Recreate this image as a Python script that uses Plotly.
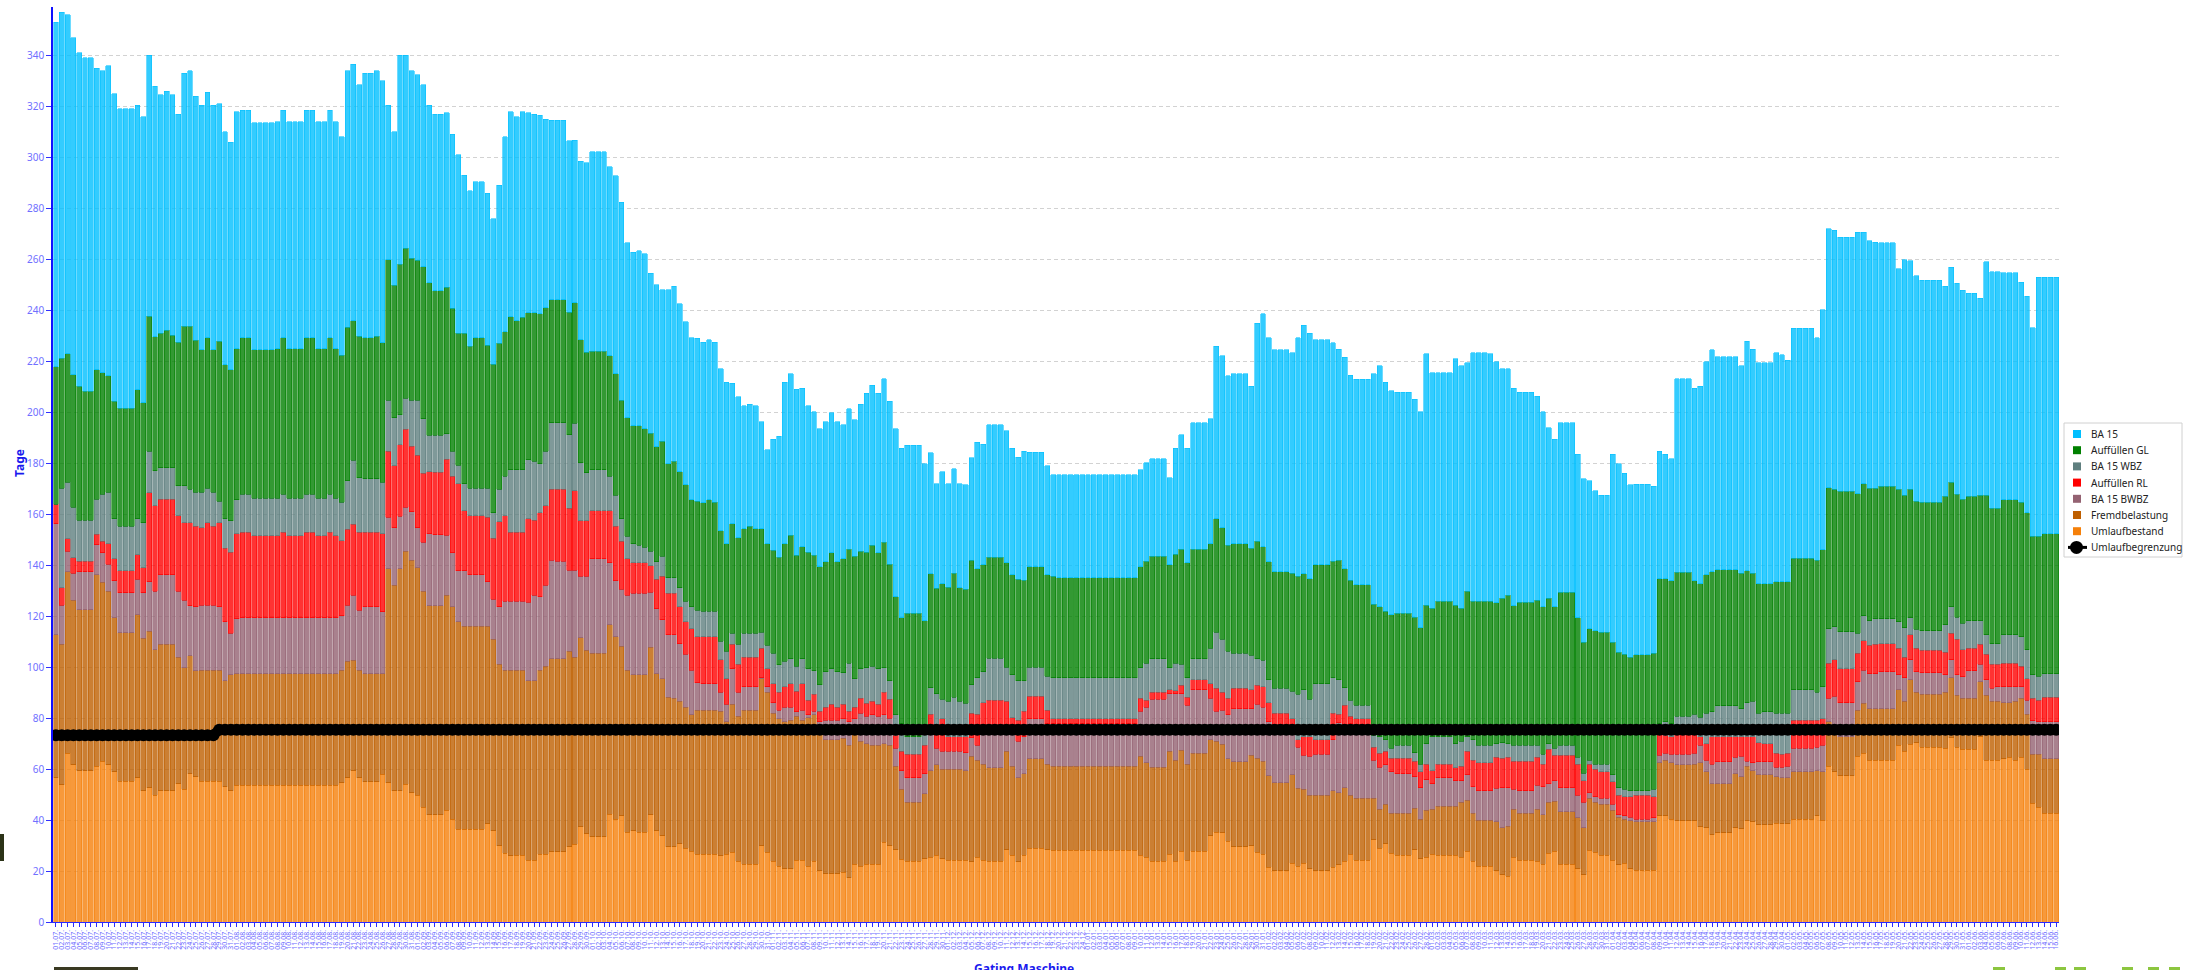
import numpy as np
import pandas as pd
import plotly.graph_objects as go

# ---------------- data (stack boundaries, in "Tage") ----------------
# x categories: consecutive days (Christmas week without data)
_days = pd.date_range("2021-07-01", "2022-06-16", freq="D")
_days = _days[~((_days >= "2021-12-25") & (_days <= "2021-12-31"))]
dates = [d.strftime("%d.%m.") for d in _days]

top_umlaufbestand = [
    56.6, 53.8, 66.3, 61.7, 59.4, 59.4, 59.4, 61.2, 63, 61.7,
    58.9, 55.2, 55.2, 55.2, 56.6, 51.5, 52.7, 49.7, 51.5, 51.5,
    51.5, 54.3, 52, 58.2, 57, 55.2, 55.2, 55.2, 55.2, 53.1,
    51.5, 53.6, 53.6, 53.6, 53.6, 53.6, 53.6, 53.6, 53.6, 53.6,
    53.6, 53.6, 53.6, 53.6, 53.6, 53.6, 53.6, 53.6, 53.6, 54.7,
    56.6, 59.4, 56.6, 55, 55, 55, 58, 54.7, 51.5, 51.5,
    54, 50.8, 49.7, 45, 42, 42, 42, 43.9, 40.4, 36.3,
    36.3, 36.3, 36.3, 36.3, 38.6, 35.8, 30, 27, 25.9, 26.1,
    26.1, 24.2, 24.2, 26.6, 26.6, 27.5, 27.5, 27.5, 29.6, 30.5,
    37.4, 34.6, 33.5, 33.5, 33.5, 42.3, 40.4, 41.6, 35.3, 35.8,
    35.3, 35.3, 42, 35.8, 33.9, 29.6, 29.6, 30.7, 28.9, 27.7,
    26.6, 26.6, 26.6, 26.6, 25.9, 26.6, 27.3, 23.8, 22.6, 22.6,
    22.6, 30, 27.3, 23.8, 21.9, 20.8, 20.8, 24.2, 24.2, 21.9,
    23.8, 20.1, 18.9, 18.9, 18.9, 19.6, 17.3, 22.6, 21.9, 22.6,
    22.6, 22.6, 31.2, 30, 28.4, 24.7, 23.8, 23.8, 23.8, 24.9,
    25.4, 26.1, 24.9, 24.2, 24.2, 24.2, 24.2, 23.6, 25.4, 24.2,
    23.8, 23.8, 23.8, 28.4, 26.1, 23.6, 26.1, 28.9, 28.9, 28.9,
    28.4, 28.2, 28.2, 28.2, 28.2, 28.2, 28.2, 28.2, 28.2, 28.2,
    28.2, 28.2, 28.2, 28.2, 28.2, 28.2, 26.1, 25.4, 23.8, 23.8,
    23.8, 26.6, 23.8, 27.7, 24.2, 27.7, 27.7, 27.7, 33.9, 35.3,
    35.1, 31.6, 29.6, 29.6, 29.6, 30, 27.3, 26.6, 21.5, 20.1,
    20.1, 20.1, 23.1, 21.9, 23.1, 20.8, 20.1, 20.1, 20.1, 21.5,
    22.4, 23.8, 26.6, 24.2, 24.2, 24.2, 32.3, 28.9, 30.7, 27,
    26.1, 26.1, 26.1, 28.4, 24.9, 25.4, 26.6, 26.1, 26.1, 26.1,
    26.1, 25.4, 27.7, 23.8, 21.9, 21.9, 21.9, 20.1, 18.5, 18,
    25.4, 24.2, 24.2, 24.2, 23.8, 22.6, 27, 27.7, 22.6, 22.6,
    22.6, 20.8, 18.5, 28.2, 27.3, 26.1, 26.1, 24.2, 22.4, 23.1,
    20.8, 20.3, 20.3, 20.3, 20.3, 41.6, 41.6, 40.4, 39.7, 39.7,
    39.7, 39.7, 37.4, 37, 34.2, 35.1, 35.1, 35.1, 37, 36.5,
    39.7, 39.3, 38.1, 38.1, 38.1, 38.8, 38.6, 38.6, 40.4, 40.4,
    40.4, 40.4, 41.6, 40, 61.2, 58.9, 57.3, 57.3, 57.3, 65.1,
    66.3, 63.5, 63.5, 63.5, 63.5, 63.5, 69.3, 67, 69.7, 70.4,
    68.6, 68.6, 68.6, 68.6, 68.1, 72.3, 68.6, 67.7, 67.7, 67.7,
    72.7, 63.5, 63.5, 63.5, 64, 64.7, 63.5, 64.7, 60, 46.6,
    45, 42.7, 42.7, 42.7,
]

top_fremdbelastung = [
    112.7, 109, 137.4, 126.3, 122.6, 122.6, 122.6, 136.3, 133.3, 129.8,
    119.4, 113.4, 113.4, 113.4, 120.5, 111.3, 114.1, 106.9, 109, 109,
    109, 103.9, 99.8, 104.4, 98.6, 98.8, 98.8, 98.8, 98.8, 94.7,
    97, 97.5, 97.5, 97.5, 97.5, 97.5, 97.5, 97.5, 97.5, 97.5,
    97.5, 97.5, 97.5, 97.5, 97.5, 97.5, 97.5, 97.5, 97.5, 98.8,
    102.3, 102.7, 98.8, 97.5, 97.5, 97.5, 97.5, 138.6, 132.1, 138.6,
    145.5, 142, 139, 129.8, 124, 124, 124, 128.2, 123.6, 117.8,
    116.1, 116.1, 116.1, 116.1, 116.1, 110.9, 101.1, 98.8, 98.8, 98.8,
    98.8, 94.7, 94.7, 98.8, 100.4, 103.2, 103.2, 103.2, 106.2, 103.9,
    111.5, 106.7, 105.5, 105.5, 105.5, 116.6, 112, 108.1, 98.8, 97,
    97, 97, 107.8, 97.5, 95.4, 88.2, 87.8, 86.6, 84.3, 81.3,
    83.1, 83.1, 83.1, 83.1, 82.7, 78.5, 85.5, 80.8, 83.1, 83.1,
    83.1, 95.4, 90.1, 82, 79.7, 78.5, 79.2, 80.8, 79.2, 80.1,
    81.3, 76.2, 71.6, 71.6, 71.6, 72.1, 69.3, 73.9, 70.9, 70,
    69.3, 69.3, 70, 69.3, 61.2, 52, 46.9, 46.9, 46.9, 50.3,
    59.4, 61.7, 60, 60, 60, 60, 59.4, 65.1, 63.5, 61.9,
    60.5, 60.5, 60.5, 67, 61.2, 56.6, 58.2, 64, 64, 64,
    61.9, 61.2, 61.2, 61.2, 61.2, 61.2, 61.2, 61.2, 61.2, 61.2,
    61.2, 61.2, 61.2, 61.2, 61.2, 61.2, 65.1, 62.4, 60.7, 60.7,
    60.7, 67, 63.5, 67.4, 61.9, 66.3, 66.3, 66.3, 71.6, 70.9,
    69.7, 64, 62.8, 62.8, 62.8, 65.4, 64.2, 63, 57.3, 54.7,
    54.7, 54.7, 57.7, 52.4, 52, 49.7, 49.7, 49.7, 49.7, 51.5,
    50.8, 52.7, 49.7, 48.5, 48.5, 48.5, 48.5, 44.3, 46.2, 42.7,
    42.7, 42.7, 42.7, 44.6, 40.4, 43.9, 44.3, 45.5, 45.5, 45.5,
    45.5, 46.9, 47.8, 42.7, 40, 40, 40, 39.3, 36.9, 37.6,
    44.3, 42.7, 42.7, 42.7, 44.3, 42, 46.9, 47.3, 43.2, 43.2,
    43.2, 40.9, 37, 48.5, 46.9, 46.2, 46.2, 43.9, 41.1, 40.4,
    39.7, 39.3, 39.3, 39.3, 39.3, 62.4, 63.5, 62.4, 61.7, 61.7,
    61.7, 61.9, 62.4, 58.9, 54.3, 54.3, 54.3, 54.3, 58.2, 57,
    61.2, 59.4, 57.7, 57.7, 57.7, 57, 56.6, 56.6, 58.9, 58.9,
    58.9, 58.9, 59.4, 58.9, 78.5, 73.9, 72.7, 72.7, 72.7, 83.1,
    85.9, 83.6, 83.6, 83.6, 83.6, 83.6, 91.2, 86.6, 95.1, 90.1,
    89.4, 89.4, 89.4, 89.4, 90.1, 95.8, 88.9, 87.8, 87.8, 87.8,
    94.2, 88.9, 86.6, 86.6, 86.1, 86.1, 86.6, 87.8, 81.5, 65.8,
    65.8, 64, 64, 64,
]

top_ba15_bwbz = [
    156.3, 124.3, 145.5, 136.9, 137.4, 137.4, 137.4, 148, 144.8, 140.4,
    133.9, 129.1, 129.1, 129.1, 134.4, 129.1, 133.5, 129.8, 136.3, 136.3,
    136.3, 129.8, 126.3, 124, 123.6, 124.3, 124.3, 124.3, 123.6, 117.8,
    113.2, 118.9, 119.4, 119.4, 119.4, 119.4, 119.4, 119.4, 119.4, 119.4,
    119.4, 119.4, 119.4, 119.4, 119.4, 119.4, 119.4, 119.4, 119.4, 120.1,
    124.3, 128.2, 122.4, 123.6, 123.6, 123.6, 121.7, 158.9, 154.7, 159.1,
    162.8, 160.9, 154.7, 148.9, 152.4, 151.9, 151.9, 151.7, 144.8, 137.9,
    137.9, 136.3, 136.3, 136.3, 133.5, 126.6, 123.6, 125.9, 125.9, 125.9,
    125.9, 125.4, 128.2, 127.7, 132.1, 142, 141.6, 141.6, 138.1, 138.1,
    135.6, 135.6, 142.5, 142.5, 142.5, 140.9, 133.9, 130.5, 128.2, 128.9,
    128.9, 128.9, 129.3, 122.9, 118.5, 112.7, 112.7, 109.2, 105.1, 98.8,
    93.9, 93.5, 93.5, 93.5, 90.1, 85.5, 99.3, 90.1, 92.4, 92.4,
    92.4, 95.8, 92.4, 86.1, 83.1, 84.3, 84.3, 82.4, 83.1, 81.3,
    82.7, 78.5, 79.2, 79.2, 79.2, 79.7, 78.5, 79.7, 82, 80.8,
    81.3, 80.8, 81.3, 80, 68.1, 59.4, 56.6, 56.6, 56.6, 58.2,
    73.9, 68.1, 67, 67, 67, 67, 66.5, 72.3, 69.3, 73.9,
    73.9, 73.9, 73.9, 73.9, 73.9, 70.9, 72.7, 79.7, 79.7, 79.7,
    77.8, 77.8, 77.8, 77.8, 77.8, 77.8, 77.8, 77.8, 77.8, 77.8,
    77.8, 77.8, 77.8, 77.8, 77.8, 77.8, 82.7, 84.3, 87.3, 87.3,
    87.3, 89.6, 89.6, 89.6, 85, 91.2, 91.2, 91.2, 87.8, 82.7,
    83.1, 81.3, 83.6, 83.6, 83.6, 83.6, 85.5, 84.3, 78.5, 76.9,
    76.9, 76.9, 76.9, 68.6, 65.4, 65.1, 65.8, 65.8, 65.8, 71.6,
    78.1, 77.4, 77.8, 77.4, 77.4, 77.4, 63.5, 60.7, 61.7, 58.9,
    58.2, 58.2, 58.2, 57, 52.7, 55.9, 54.3, 56.6, 56.6, 56.6,
    55.4, 55.4, 57.7, 53.1, 51.5, 51.5, 51.5, 52.4, 52.7, 52.7,
    52, 51.5, 51.5, 51.5, 53.6, 53.1, 54.3, 55.4, 52.7, 52.7,
    52.7, 49.7, 46.9, 50.8, 49.2, 48.5, 48.5, 46.2, 42, 41.6,
    41.1, 40.4, 40.4, 40.4, 40.9, 65.4, 66.3, 65.8, 65.8, 65.8,
    65.8, 66.3, 69.3, 63.5, 61.9, 62.8, 62.8, 62.8, 64.7, 65.1,
    63, 62.4, 62.8, 62.8, 62.8, 60.7, 60.7, 61.2, 68.1, 68.1,
    68.1, 68.1, 68.6, 69.3, 87.8, 88.5, 86.1, 86.1, 86.1, 94.2,
    98.8, 97.5, 97.5, 98.2, 98.2, 98.2, 97, 95.8, 102.8, 98.2,
    97.7, 97.7, 97.7, 97.7, 97, 102.8, 97, 96.3, 98.6, 98.6,
    101.1, 95.1, 91.7, 92.4, 92.4, 92.4, 92.4, 92.4, 87.1, 79,
    78.5, 78.5, 78.5, 78.5,
]

top_auffuellen_rl = [
    164, 131.2, 150.3, 143, 141.6, 141.6, 141.6, 152.2, 149.4, 148.5,
    142.5, 137.9, 137.9, 137.9, 144.1, 139, 168.4, 163.3, 165.8, 165.8,
    165.8, 159.3, 156.6, 156.6, 155.2, 154.7, 156.6, 155.2, 156.6, 146.6,
    145, 152.4, 152.9, 152.9, 151.5, 151.5, 151.5, 151.5, 151.5, 152.9,
    151.5, 151.5, 151.5, 152.9, 152.9, 151.5, 151.5, 152.9, 151.5, 149.6,
    154, 156.1, 152.9, 152.9, 152.9, 152.9, 152.4, 184.7, 179, 187.3,
    193.3, 186.6, 183.1, 176, 176.7, 176.4, 176.4, 181.5, 174.8, 172,
    161.4, 159.3, 159.3, 159.3, 158.9, 150.6, 157, 159.3, 152.9, 152.9,
    152.9, 158.2, 157.7, 160.5, 163.3, 169.7, 169.7, 169.7, 162.4, 169.3,
    157.5, 157.5, 161.4, 161.4, 161.4, 161.4, 155.2, 149.4, 142.5, 140.9,
    140.9, 140.9, 139.7, 134.4, 135.6, 128.9, 128.9, 123.6, 117.8, 115,
    112, 112, 112, 112, 102.8, 95.4, 109, 101.1, 103.9, 103.9,
    103.9, 107.4, 99.3, 93.5, 90.1, 92.4, 93.5, 90.5, 93.5, 87.1,
    89.4, 82.7, 84.3, 85.5, 84.3, 85.5, 82.7, 84.3, 87.8, 85.9,
    86.6, 85.5, 90.1, 87.3, 73.2, 67, 65.8, 65.8, 65.8, 69.3,
    81.5, 77.4, 79.7, 72.7, 72.7, 72.7, 72.7, 82, 81.5, 86.1,
    87.1, 87.1, 87.1, 86.6, 80.1, 79.2, 82.7, 88.5, 88.5, 88.5,
    83.1, 79.7, 79.7, 79.7, 79.7, 79.7, 79.7, 79.7, 79.7, 79.7,
    79.7, 79.7, 79.7, 79.7, 79.7, 79.7, 87.8, 87.1, 90.1, 90.1,
    90.1, 91.2, 90.7, 92.8, 88.2, 95.1, 95.1, 95.1, 93.5, 91.7,
    90.1, 87.8, 91.7, 91.7, 91.7, 91.2, 92.8, 92.4, 86.1, 82,
    82, 82, 79.7, 71.6, 72.7, 72.7, 71.6, 71.6, 71.6, 82,
    81.5, 85, 80.8, 79.7, 79.7, 79.7, 68.6, 66.3, 67, 64.2,
    64.2, 64.2, 64.2, 63, 58.9, 61.9, 59.4, 61.9, 61.9, 61.9,
    60.5, 61.2, 67, 63.5, 62.4, 62.4, 62.4, 64.7, 64.2, 64.7,
    63, 63, 63, 63, 64.7, 61.9, 67.7, 65.4, 65.4, 65.4,
    65.4, 61.9, 55.4, 61.9, 60, 58.9, 58.9, 55, 49.7, 49.2,
    49.2, 49.7, 49.7, 49.7, 49.2, 75.1, 73.2, 72.7, 73.9, 73.9,
    73.9, 75.1, 72.7, 70, 72.7, 72.7, 72.7, 72.7, 72.7, 72.7,
    72.7, 72.7, 70.4, 70, 70, 66.3, 65.8, 66.3, 79.2, 79.2,
    79.2, 79.2, 79.2, 79.7, 101.6, 102.8, 99.3, 99.3, 99.3, 105.5,
    110.4, 108.5, 109, 109.2, 109.2, 109.2, 107.4, 103.9, 112.7, 107.4,
    106.7, 106.7, 106.7, 106.7, 105.8, 113.2, 110.9, 106.9, 107.4, 107.4,
    109, 105.1, 101.1, 101.1, 101.6, 101.6, 101.6, 100.4, 95.4, 87.8,
    87.1, 88.2, 88.2, 88.2,
]

top_ba15_wbz = [
    164, 170.2, 172.5, 162.8, 157.7, 157.7, 157.7, 165.8, 167.9, 168.6,
    158.2, 155.2, 155.2, 155.2, 158.2, 156.6, 184.7, 177.1, 178.3, 178.3,
    178.3, 171.1, 171.1, 169.7, 168.6, 168.6, 170.2, 168.6, 165.1, 158.2,
    157.5, 165.6, 167.9, 167.9, 166.3, 166.3, 166.3, 166.3, 166.3, 167.9,
    166.3, 166.3, 166.3, 167.9, 167.9, 166.3, 166.3, 167.9, 166.3, 164.7,
    173.2, 181.1, 174.4, 173.9, 173.9, 173.9, 172.5, 204.8, 197.9, 199.1,
    205.5, 204.8, 204.8, 197.4, 191, 191, 191, 191.5, 184.7, 179.2,
    172, 170.2, 170.2, 170.2, 170.2, 160.5, 169.7, 174.8, 177.4, 177.4,
    177.4, 181.3, 180.8, 179.7, 184.7, 195.8, 195.8, 195.8, 191.2, 195.6,
    180.1, 176.2, 177.4, 177.4, 177.4, 174.8, 167.4, 158.2, 151.3, 148.5,
    147.8, 147.1, 145.5, 141.3, 143.6, 135.1, 135.1, 131.2, 125.9, 123.6,
    122.4, 122, 122, 122, 110.2, 106.2, 113.2, 109, 113.2, 113.2,
    113.2, 113.6, 108.5, 105.5, 100.9, 102.3, 103.2, 100.4, 103.2, 99.3,
    98.6, 93.1, 98.1, 99.3, 98.1, 97.7, 101.6, 95.4, 99.3, 99.8,
    100.4, 99.3, 99.8, 94.7, 81.3, 77.8, 72.7, 72.7, 72.7, 75,
    91.9, 89.6, 87.3, 86.6, 88.2, 86.6, 85.9, 93.1, 95.8, 98.1,
    103.5, 103.5, 103.5, 100, 97, 94.7, 94.7, 100, 100, 100,
    96.5, 95.8, 95.8, 95.8, 95.8, 95.8, 95.8, 95.8, 95.8, 95.8,
    95.8, 95.8, 95.8, 95.8, 95.8, 95.8, 99.8, 101.6, 103.2, 103.2,
    103.2, 99.8, 101.6, 101.1, 95.8, 103.2, 103.2, 103.2, 107.4, 113.6,
    110.9, 106.2, 105.5, 105.5, 105.5, 104.6, 103.2, 102.7, 95.1, 91.7,
    91.7, 91.7, 90.5, 89.4, 91.2, 87.3, 93.5, 93.5, 93.5, 95.8,
    95.1, 91.9, 87.1, 85, 85, 85, 73.2, 72.7, 71.6, 68.1,
    69.3, 69.3, 69.3, 66.5, 61.9, 70, 72.7, 72.7, 72.7, 72.7,
    70, 70.9, 72.7, 71.6, 69.3, 69.3, 69.3, 70, 70.4, 70,
    69.3, 69.3, 69.3, 69.3, 69.3, 65.8, 70, 68.1, 69.3, 69.3,
    69.3, 64.7, 58.4, 63.5, 61.9, 61.9, 61.9, 57.7, 52.7, 52,
    51.5, 51.5, 51.5, 51.5, 52, 77.8, 78.5, 77.8, 80.8, 80.8,
    80.8, 81.5, 80.4, 82, 82.5, 84.8, 84.8, 84.8, 84.8, 83.6,
    86.1, 86.6, 82, 82.5, 82.5, 82, 82, 82, 91.2, 91.2,
    91.2, 91.2, 90.1, 92.4, 115, 115.9, 113.9, 113.9, 113.9, 113.2,
    120.1, 118.2, 118.9, 118.9, 118.9, 118.9, 117.8, 115.5, 119.4, 114.8,
    114.3, 114.3, 114.3, 114.3, 116.6, 123.6, 119.6, 117.3, 118.2, 118.2,
    118.2, 112.7, 109.2, 109.2, 112.7, 112.7, 112.7, 112, 106.9, 97,
    96.5, 97.5, 97.5, 97.5,
]

top_auffuellen_gl = [
    217.8, 221.2, 222.9, 214.8, 210.2, 208.3, 208.3, 216.6, 215.5, 214.3,
    204.4, 201.6, 201.6, 201.6, 208.8, 203.7, 237.6, 229.6, 231, 232.1,
    230.3, 227.5, 233.7, 233.7, 228.2, 224.5, 229.3, 224.5, 227.9, 218.7,
    216.6, 224.9, 229.3, 229.3, 224.5, 224.5, 224.5, 224.5, 225, 229.3,
    225, 225, 225, 229.3, 229.3, 225, 225, 229.3, 225, 222.4,
    233.3, 236, 229.8, 229.3, 229.3, 229.8, 227.3, 259.8, 249.9, 258,
    264.4, 260.5, 259.6, 257, 250.8, 247.6, 247.6, 249, 240.9, 231,
    231, 225.9, 229.3, 229.3, 226.3, 218.9, 227, 231.6, 237.4, 236,
    237.2, 239, 239, 238.6, 241.1, 244.1, 244.1, 244.1, 239.3, 242.9,
    228.4, 223.6, 224, 224, 224, 222.2, 215.2, 204.8, 197.9, 194.7,
    194.7, 193.5, 191.7, 186.4, 188.7, 179.7, 180.8, 176.7, 171.6, 165.6,
    165.1, 164.4, 165.6, 164.7, 153.6, 148.5, 156.3, 150.8, 154.3, 155.2,
    154.3, 154.3, 148.5, 145.9, 143.2, 148.5, 151.7, 143.9, 147.3, 145,
    143.9, 139.3, 141.3, 144.8, 141.3, 142.5, 146.2, 143.6, 145.5, 145,
    147.8, 144.8, 148.9, 140.4, 127.7, 119.4, 121.2, 121.2, 121.2, 118.2,
    136.7, 130.9, 132.8, 131.4, 136.9, 131.2, 130.5, 142, 138.6, 140.2,
    143.2, 143.2, 143.2, 140.9, 136.3, 134.4, 134, 139.3, 139.3, 139.3,
    136.3, 135.6, 135.1, 135.1, 135.1, 135.1, 135.1, 135.1, 135.1, 135.1,
    135.1, 135.1, 135.1, 135.1, 135.1, 135.1, 139.3, 141.6, 143.6, 143.6,
    143.6, 140.2, 144.3, 146.2, 140.9, 146.2, 146.2, 146.2, 148.5, 158.2,
    154.7, 147.8, 148.5, 148.5, 148.5, 146.6, 149.4, 147.3, 141.3, 137.4,
    137.4, 137.4, 136.9, 135.6, 136.7, 134.6, 140.2, 140.2, 140.2, 141.6,
    142, 138.6, 134, 132.3, 132.3, 132.3, 124.7, 123.6, 121.9, 120.5,
    121.2, 121.2, 121.2, 119.6, 115.5, 124.2, 123.1, 125.9, 125.9, 125.9,
    124.2, 123.1, 129.8, 125.9, 125.9, 125.9, 125.9, 125.2, 127, 128.2,
    124, 125.4, 125.4, 125.4, 126.3, 123.6, 127, 123.6, 129.3, 129.3,
    129.3, 119.4, 109.7, 115, 114.3, 113.6, 113.6, 109.7, 105.8, 105.1,
    103.9, 104.8, 104.8, 104.8, 105.5, 134.6, 134.6, 133.9, 137.2, 137.2,
    137.2, 133.9, 132.8, 136.3, 137.4, 138.3, 138.3, 138.3, 138.3, 136.9,
    137.9, 136.9, 132.8, 132.8, 132.8, 133.5, 133.5, 133.5, 142.7, 142.7,
    142.7, 142.7, 142, 146, 170.4, 169.7, 169, 169, 169, 168.1,
    172, 170.2, 170.2, 170.9, 170.9, 170.9, 169.7, 167.4, 169.7, 165.1,
    164.7, 164.7, 164.7, 164.7, 167, 172.5, 167.9, 165.8, 167, 167,
    167.4, 167.4, 162.4, 162.4, 165.6, 165.6, 165.6, 164.7, 160.5, 151.3,
    151.3, 152.4, 152.4, 152.4,
]

top_ba15 = [
    353, 357, 356, 347, 341, 339, 339, 335, 334, 336,
    325, 319, 319, 319, 320.5, 316, 340, 328, 324.5, 326,
    324.5, 317, 333, 334, 324, 320.5, 325.5, 320.5, 321, 310,
    306, 318, 318.5, 318.5, 313.5, 313.5, 313.5, 313.5, 314, 318.5,
    314, 314, 314, 318.5, 318.5, 314, 314, 318.5, 314, 308,
    334, 336.5, 328.5, 333, 333, 334, 330, 320.5, 310, 340,
    340, 334, 332.5, 328.5, 320.5, 317, 317, 317.5, 309, 301,
    293, 287, 290.5, 290.5, 286, 276, 289, 308, 318, 316,
    318, 317.5, 317, 316.5, 315, 314.5, 314.5, 314.5, 306.5, 306.7,
    298.4, 297.9, 302.3, 302.3, 302.3, 296.3, 292.8, 282.4, 266.5, 262.8,
    263.3, 262.1, 254.5, 250.1, 248, 248, 249.4, 242.5, 235.6, 229.3,
    229.1, 227.5, 228.4, 227.5, 217.1, 211.8, 211.3, 206, 202.5, 203.2,
    202.5, 196.3, 185.2, 189.4, 190.5, 211.8, 215.2, 209, 209.5, 202.5,
    200.2, 193.5, 196.3, 199.8, 196.3, 195.1, 201.4, 197, 203.2, 207.4,
    210.6, 207.4, 213.2, 204.4, 193.5, 185.9, 187.1, 187.1, 187.1, 179.7,
    184.1, 172, 176.7, 172, 177.8, 172, 171.6, 182.2, 188.2, 187.5,
    195.1, 195.1, 195.1, 192.8, 185.9, 182.4, 184.7, 184.3, 184.3, 184.3,
    179, 175.5, 175.5, 175.5, 175.5, 175.5, 175.5, 175.5, 175.5, 175.5,
    175.5, 175.5, 175.5, 175.5, 175.5, 175.5, 177.4, 180.1, 181.7, 181.7,
    181.7, 174.4, 185.9, 191.2, 185.9, 195.8, 195.8, 195.8, 197.4, 225.9,
    222.2, 214.3, 215.2, 215.2, 215.2, 210.2, 234.9, 238.6, 229.3, 224.5,
    224.5, 224.5, 223.3, 229.3, 234.2, 231, 228.4, 228.4, 228.4, 227.3,
    224.7, 221.5, 214.6, 212.9, 212.9, 212.9, 215.2, 218.2, 211.8, 208.5,
    207.8, 207.8, 207.8, 205.1, 200.2, 222.9, 215.5, 215.5, 215.5, 215.5,
    221, 218.2, 219.4, 223.3, 223.3, 223.3, 222.9, 219.9, 217.1, 217.1,
    209.5, 207.8, 207.8, 207.8, 206.2, 200.2, 194, 189.4, 195.8, 195.8,
    195.8, 183.6, 173.9, 173.2, 169.3, 167.4, 167.4, 183.6, 179.7, 176,
    171.6, 171.8, 171.8, 171.8, 170.9, 184.7, 183.6, 181.7, 213.2, 213.2,
    213.2, 209.5, 210.2, 219.9, 224.5, 221.7, 221.7, 221.7, 221.7, 218.2,
    227.9, 224.7, 219.4, 219.4, 219.4, 223.3, 222.6, 220.5, 233, 233,
    233, 233, 229.3, 240.2, 272, 271.4, 268.6, 268.6, 268.6, 270.7,
    270.7, 267.2, 266.7, 266.5, 266.5, 266.5, 256.3, 259.8, 259.4, 253.6,
    251.7, 251.7, 251.7, 251.7, 249.4, 256.8, 250.6, 247.8, 246.6, 246.6,
    244.8, 259.1, 255.2, 255.2, 254.7, 254.7, 254.7, 251, 245.5, 233.2,
    252.9, 252.9, 252.9, 252.9,
]

# limit line (Umlaufbegrenzung): 73.3 for the first 28 days, 75.4 afterwards
umlaufbegrenzung = [73.3] * 28 + [75.4] * 316

series_names = ["Umlaufbestand", "Fremdbelastung", "BA 15 BWBZ", "Auffüllen RL",
                "BA 15 WBZ", "Auffüllen GL", "BA 15"]
tops = [top_umlaufbestand, top_fremdbelastung, top_ba15_bwbz, top_auffuellen_rl,
        top_ba15_wbz, top_auffuellen_gl, top_ba15]
legend_order = ["BA 15", "Auffüllen GL", "BA 15 WBZ", "Auffüllen RL",
                "BA 15 BWBZ", "Fremdbelastung", "Umlaufbestand", "Umlaufbegrenzung"]

N = len(top_ba15)
for t in tops:
    assert len(t) == N, len(t)
assert len(umlaufbegrenzung) == N
dates = dates[:N]
assert len(dates) == N

# ---------------- styling ----------------
base_rgb = {
    "BA 15": (0, 191, 255),
    "Auffüllen GL": (0, 128, 0),
    "BA 15 WBZ": (95, 127, 127),
    "Auffüllen RL": (255, 0, 0),
    "BA 15 BWBZ": (148, 98, 114),
    "Fremdbelastung": (190, 95, 0),
    "Umlaufbestand": (245, 128, 10),
}

cum = np.maximum.accumulate(np.array(tops, dtype=float), axis=0)
segments = np.vstack([cum[0], np.diff(cum, axis=0)])

fig = go.Figure()
for name, seg in zip(series_names, segments):
    r, g, b = base_rgb[name]
    fig.add_trace(go.Bar(
        x=dates, y=seg, name=name, showlegend=False,
        marker=dict(color=f"rgba({r},{g},{b},0.8)",
                    line=dict(color=f"rgba({r},{g},{b},0.95)", width=0.6)),
    ))

fig.add_trace(go.Scatter(
    x=dates, y=umlaufbegrenzung, name="Umlaufbegrenzung", showlegend=False,
    mode="lines+markers",
    line=dict(color="black", width=10),
    marker=dict(color="black", size=12),
))

W, H = 2196, 970
PL, PR, PT, PB = 53, 2059, 7, 922


def px_x(p):
    return (p - PL) / (PR - PL)


def px_y(p):
    return (PB - p) / (PB - PT)


font_family = "Noto Sans, Open Sans, DejaVu Sans, sans-serif"

shapes = [
    dict(type="rect", xref="paper", yref="paper", x0=px_x(0), x1=px_x(4),
         y0=px_y(861), y1=px_y(834), fillcolor="#2c3318", line=dict(width=0), layer="above"),
    dict(type="rect", xref="paper", yref="paper", x0=px_x(54), x1=px_x(138),
         y0=px_y(970), y1=px_y(967), fillcolor="#3a3a22", line=dict(width=0), layer="above"),
]
for a, b in [(1993, 2005), (2055, 2066), (2074, 2086), (2122, 2133), (2148, 2159), (2169, 2180)]:
    shapes.append(dict(type="rect", xref="paper", yref="paper", x0=px_x(a), x1=px_x(b),
                       y0=px_y(970), y1=px_y(967), fillcolor="#8cc63f",
                       line=dict(width=0), layer="above"))

annotations = [
    dict(text="<b>Tage</b>", xref="paper", yref="paper", x=px_x(19), y=px_y(463),
         textangle=-90, showarrow=False, xanchor="center", yanchor="middle",
         font=dict(size=12, color="#1a1aee", family=font_family)),
    dict(text="<b>Gating Maschine</b>", xref="paper", yref="paper", x=px_x(1024), y=px_y(958),
         showarrow=False, xanchor="center", yanchor="top",
         font=dict(size=12, color="#1a1aee", family=font_family)),
]

# ---- compact legend box (drawn at the reference's size) ----
LX0, LX1, LY0, LY1 = 2064, 2182, 423, 557
shapes.append(dict(type="rect", xref="paper", yref="paper",
                   x0=px_x(LX0), x1=px_x(LX1), y0=px_y(LY1), y1=px_y(LY0),
                   fillcolor="white", line=dict(color="#d0d0d0", width=1), layer="above"))
item_step = 16.2
for i, name in enumerate(legend_order):
    yc = 434 + i * item_step
    if name in base_rgb:
        r, g, b = base_rgb[name]
        shapes.append(dict(type="rect", xref="paper", yref="paper",
                           x0=px_x(2073), x1=px_x(2081), y0=px_y(yc + 4), y1=px_y(yc - 4),
                           fillcolor=f"rgb({r},{g},{b})", line=dict(width=0), layer="above"))
    else:
        shapes.append(dict(type="line", xref="paper", yref="paper",
                           x0=px_x(2068), x1=px_x(2087), y0=px_y(yc), y1=px_y(yc),
                           line=dict(color="black", width=3), layer="above"))
        shapes.append(dict(type="circle", xref="paper", yref="paper",
                           x0=px_x(2070), x1=px_x(2083), y0=px_y(yc + 6.5), y1=px_y(yc - 6.5),
                           fillcolor="black", line=dict(color="black", width=0), layer="above"))
    annotations.append(dict(text=name, xref="paper", yref="paper", x=px_x(2089), y=px_y(yc),
                            xanchor="left", yanchor="middle", showarrow=False,
                            font=dict(size=10, color="#222222", family=font_family)))

fig.update_layout(
    width=W, height=H,
    margin=dict(l=PL, r=W - PR, t=PT, b=H - PB, autoexpand=False),
    paper_bgcolor="white", plot_bgcolor="white",
    barmode="stack", bargap=0.17,
    font=dict(family=font_family, size=10, color="#333333"),
    showlegend=False,
    xaxis=dict(
        type="category", range=[-0.5, N - 0.5],
        tickmode="linear", tick0=0, dtick=1,
        tickangle=-90, tickfont=dict(size=7, color="#6a6aff", family=font_family),
        showline=True, linecolor="#2a2aff", linewidth=1.2,
        ticks="outside", ticklen=4, tickcolor="#2a2aff", tickwidth=1,
        showgrid=False, zeroline=False,
    ),
    yaxis=dict(
        range=[0, 359], tick0=0, dtick=20,
        tickfont=dict(size=10, color="#7070ff", family=font_family),
        showline=True, linecolor="#1010ff", linewidth=1.5,
        ticks="outside", ticklen=5, tickcolor="#3030ff", tickwidth=1,
        showgrid=True, gridcolor="#d2d2d2", gridwidth=1, griddash="4px,3px",
        zeroline=False,
    ),
    annotations=annotations,
    shapes=shapes,
)

fig.write_html("out.html", include_plotlyjs=True, full_html=True,
               config={"displayModeBar": False},
               post_script="document.body.style.margin='0';document.body.style.overflow='hidden';")
